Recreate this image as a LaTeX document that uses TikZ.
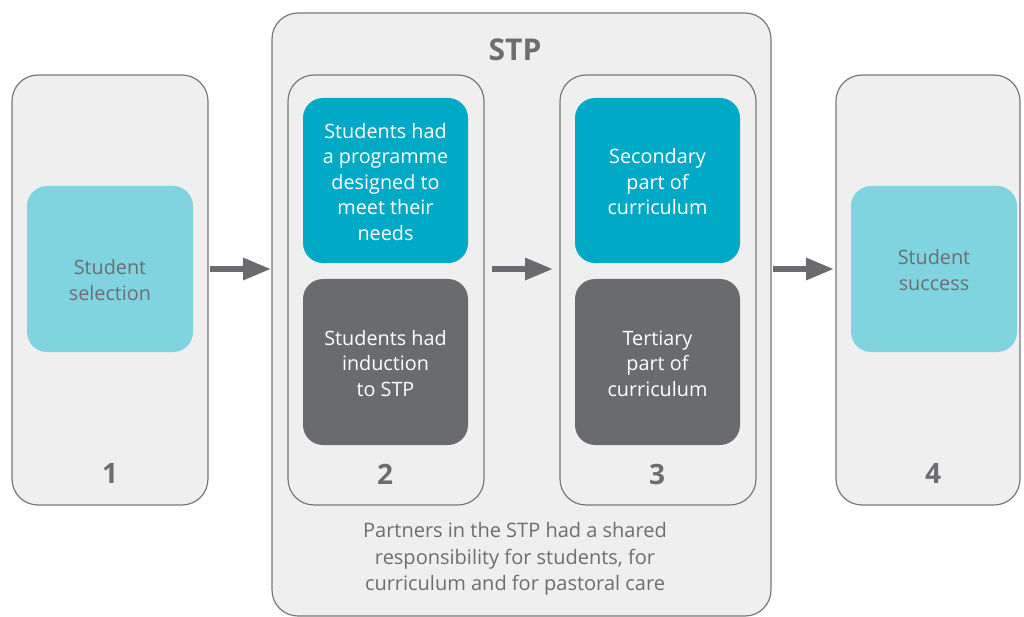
\documentclass[tikz,border=0pt]{standalone}
\usepackage{fontspec}
\setmainfont{Open Sans}
\usetikzlibrary{arrows.meta}
\definecolor{panelfill}{HTML}{EFEFEF}
\definecolor{panelline}{HTML}{77787B}
\definecolor{lightcyan}{HTML}{7FD4E0}
\definecolor{teal}{HTML}{00A9C5}
\definecolor{darkgrey}{HTML}{696B6E}
\definecolor{txtgrey}{HTML}{6D6E71}
\tikzset{
  panel/.style={draw=panelline, line width=1.2pt, fill=panelfill, rounded corners=26pt},
  card/.style={rounded corners=20pt},
  lightcard/.style={card, fill=lightcyan},
  tealcard/.style={card, fill=teal},
  darkcard/.style={card, fill=darkgrey},
  cardtext/.style={align=center, font=\fontsize{19.8}{25.5}\selectfont},
  numlabel/.style={font=\fontsize{28}{30}\selectfont\bfseries, text=txtgrey},
  flow/.style={draw=darkgrey, line width=6pt, -{Triangle[length=28pt,width=21pt]}, shorten >=0pt}
}
\begin{document}
\begin{tikzpicture}[x=1pt,y=-1pt]
\useasboundingbox (0,0) rectangle (1024,617);
% panels
\draw[panel] (12,75) rectangle (208,505);
\draw[panel] (272,13) rectangle (771,616);
\draw[panel] (288,75) rectangle (484,505);
\draw[panel] (560,75) rectangle (756,505);
\draw[panel] (836,75) rectangle (1020,505);
% cards
\path[lightcard] (27,186) rectangle (193,352);
\node[cardtext, text=txtgrey] (sel) at (110,280) {Student\\selection};
\path[tealcard] (303,98) rectangle (468,263);
\node[cardtext, text=white] (prog) at (385.5,182) {Students had\\a programme\\designed to\\meet their\\needs};
\path[darkcard] (303,279) rectangle (468,445);
\node[cardtext, text=white] (ind) at (385.5,363.5) {Students had\\induction\\to STP};
\path[tealcard] (575,98) rectangle (740,263);
\node[cardtext, text=white] (sec) at (657.5,182) {Secondary\\part of\\curriculum};
\path[darkcard] (575,279) rectangle (740,445);
\node[cardtext, text=white] (ter) at (657.5,363.5) {Tertiary\\part of\\curriculum};
\path[lightcard] (851,186) rectangle (1017,352);
\node[cardtext, text=txtgrey] (succ) at (934,270) {Student\\success};
% labels
\node[font=\fontsize{30}{32}\selectfont\bfseries, text=txtgrey] (stp) at (515,50) {STP};
\node[numlabel] (n1) at (110,474) {1};
\node[numlabel] (n2) at (385,474) {2};
\node[numlabel] (n3) at (657,474) {3};
\node[numlabel] (n4) at (933,474) {4};
\node[text=txtgrey, align=center, font=\fontsize{20}{26.5}\selectfont] (note) at (515,559) {Partners in the STP had a shared\\responsibility for students, for\\curriculum and for pastoral care};
% arrows
\coordinate (a1s) at (210,269); \coordinate (a1e) at (271,269);
\coordinate (a2s) at (492,269); \coordinate (a2e) at (553,269);
\coordinate (a3s) at (773,269); \coordinate (a3e) at (834,269);
\draw[flow] (a1s) -- (a1e);
\draw[flow] (a2s) -- (a2e);
\draw[flow] (a3s) -- (a3e);
\end{tikzpicture}
\end{document}
